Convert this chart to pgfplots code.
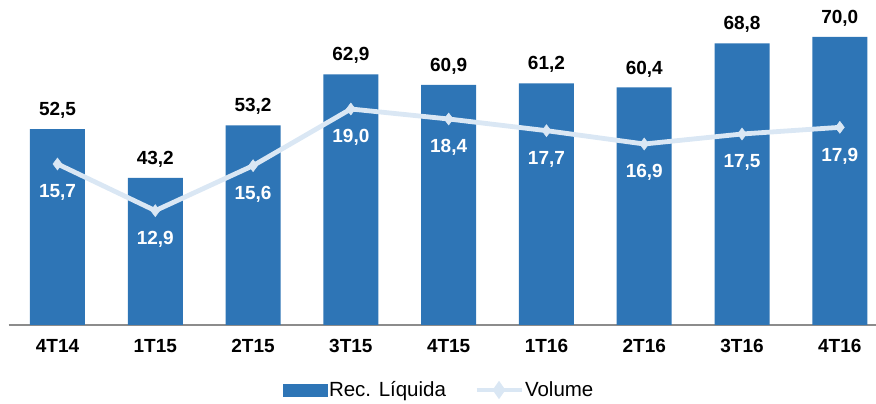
\documentclass[border=0pt]{standalone}
\usepackage{fontspec}
\setmainfont{Liberation Sans}
\usepackage{pgfplots}
\pgfplotsset{compat=1.18}
\definecolor{barblue}{HTML}{2E75B6}
\definecolor{lineblue}{HTML}{DAE7F4}
\definecolor{axgray}{HTML}{8C8C8C}
\newcommand{\lblfont}{\fontsize{19}{22}\selectfont\bfseries}
\begin{document}
\begin{tikzpicture}
\useasboundingbox (-8.6pt,-79pt) rectangle (867.4pt,325pt);
\begin{axis}[
  at={(0pt,0pt)}, anchor=south west,
  scale only axis, width=867.4pt, height=325pt,
  xmin=-0.5, xmax=8.37, ymin=15.26, ymax=77.03,
  clip=false,
  axis y line=none, axis x line*=bottom,
  x axis line style={axgray, line width=1.5pt, -},
  xtick={0,...,8},
  xticklabels={4T14,1T15,2T15,3T15,4T15,1T16,2T16,3T16,4T16},
  major tick length=0pt,
  xticklabel style={font=\lblfont, text=black, yshift=-11pt},
  ybar, bar width=55pt,
  nodes near coords={\pgfmathprintnumber[use comma,fixed,fixed zerofill,precision=1,assume math mode=true]{\pgfplotspointmeta}},
  nodes near coords style={font=\lblfont, text=black, yshift=7pt},
]
\addplot[fill=barblue, draw=none] coordinates {
  (0,52.5) (1,43.2) (2,53.2) (3,62.9) (4,60.9) (5,61.2) (6,60.4) (7,68.8) (8,70.0)
};
\end{axis}
\begin{axis}[
  at={(0pt,0pt)}, anchor=south west,
  scale only axis, width=867.4pt, height=325pt,
  xmin=-0.5, xmax=8.37, ymin=6.04, ymax=25.54,
  clip=false,
  axis lines=none, ticks=none,
  legend style={at={(0.4962,-0.2)}, anchor=center, draw=none, fill=none,
    font=\fontsize{20.5}{24}\selectfont, legend columns=2,
    nodes={inner sep=1.5pt},
    /tikz/every even column/.append style={column sep=27pt}},
  nodes near coords={\pgfmathprintnumber[use comma,fixed,fixed zerofill,precision=1,assume math mode=true]{\pgfplotspointmeta}},
  nodes near coords style={font=\lblfont, text=white, anchor=north, yshift=-17pt},
]
\addlegendimage{legend image code/.code={\fill[barblue] (0pt,-6pt) rectangle (44pt,6pt);}}
\addlegendentry{Rec. Líquida}
\addplot[lineblue, line width=4.8pt, mark=diamond*, mark size=6pt,
  mark options={fill=lineblue, draw=lineblue, line width=0.5pt},
  legend image code/.code={\draw[lineblue, line width=4pt] (0pt,0pt) -- (45pt,0pt);
     \fill[lineblue] (22.5pt,5pt) -- (26pt,0pt) -- (22.5pt,-5pt) -- (19pt,0pt) -- cycle;}]
  coordinates {
  (0,15.7) (1,12.9) (2,15.6) (3,19.0) (4,18.4) (5,17.7) (6,16.9) (7,17.5) (8,17.9)
};
\addlegendentry{Volume}
\end{axis}
\end{tikzpicture}
\end{document}
